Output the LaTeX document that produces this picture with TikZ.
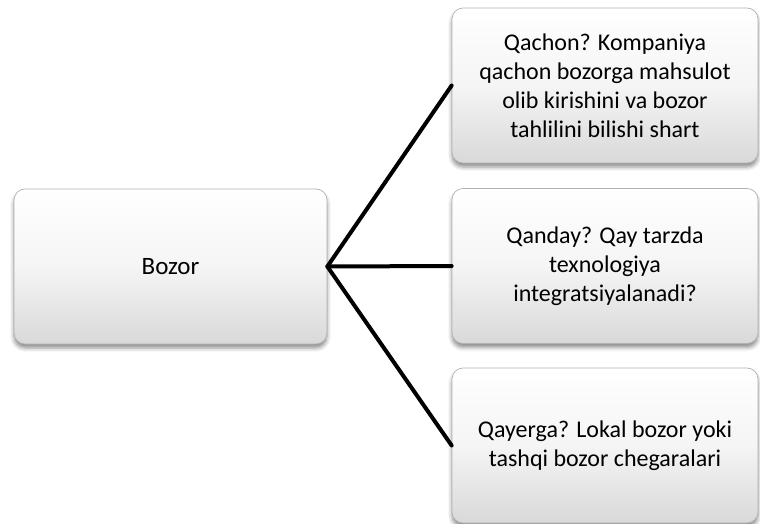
\documentclass[tikz,border=0pt]{standalone}
\usepackage{fontspec}
\setmainfont{Carlito}
\usetikzlibrary{shadows.blur}
\begin{document}
\begin{tikzpicture}[x=1pt,y=-1pt,
  card/.style={rounded corners=11pt, draw=gray!60, line width=0.7pt,
    top color=white, bottom color=gray!30, middle color=gray!8,
    blur shadow={shadow xshift=0pt, shadow yshift=-4pt, shadow blur radius=4pt, shadow opacity=45},
    minimum height=155pt, align=center, inner sep=4pt,
    font=\fontsize{24}{29}\selectfont, text=black},
  link/.style={line width=4pt, line cap=round, line join=round}]
  \useasboundingbox (0,0) rectangle (760,524);
  \node[card, minimum width=313pt] (bozor) at (170.5,266.5) {\fontsize{25}{29}\selectfont Bozor};
  \node[card, minimum width=306pt] (qachon) at (605,85.5)
    {Qachon? Kompaniya\\qachon bozorga mahsulot\\olib kirishini va bozor\\tahlilini bilishi shart};
  \node[card, minimum width=306pt] (qanday) at (605,266)
    {Qanday? Qay tarzda\\texnologiya\\integratsiyalanadi?};
  \node[card, minimum width=306pt] (qayerga) at (605,445.5)
    {Qayerga? Lokal bozor yoki\\tashqi bozor chegaralari};
  \draw[link] (qachon.west) -- (bozor.east) -- (qayerga.west);
  \draw[link] (bozor.east) -- (qanday.west);
\end{tikzpicture}
\end{document}
